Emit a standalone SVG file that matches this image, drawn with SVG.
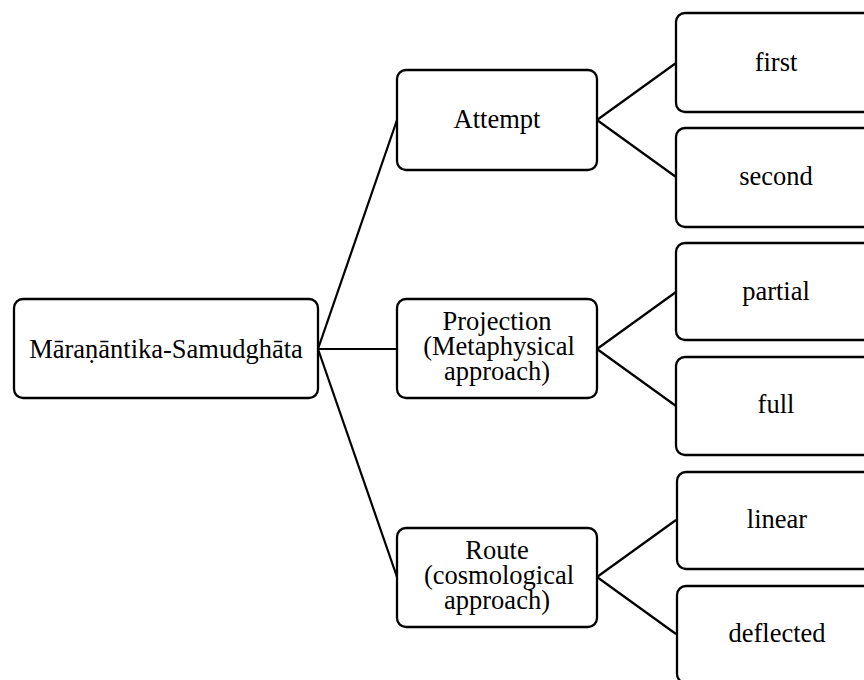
<svg xmlns="http://www.w3.org/2000/svg" width="864" height="680" viewBox="0 0 864 680">
  <style>
    .box { fill: #ffffff; stroke: #000000; stroke-width: 2.3; }
    .lbl { font-family: "Liberation Serif", "Times New Roman", serif; font-size: 26.5px; fill: #000000; text-anchor: middle; }
    .link { stroke: #000000; stroke-width: 2.2; fill: none; }
  </style>
  <rect width="864" height="680" fill="#ffffff"/>

  <g id="connectors">
    <line class="link" x1="318" y1="349" x2="397" y2="120"/>
    <line class="link" x1="318" y1="349" x2="397" y2="349"/>
    <line class="link" x1="318" y1="349" x2="397" y2="577"/>
    <line class="link" x1="597" y1="120" x2="676" y2="63"/>
    <line class="link" x1="597" y1="120" x2="676" y2="177"/>
    <line class="link" x1="597" y1="349" x2="676" y2="292"/>
    <line class="link" x1="597" y1="349" x2="676" y2="406"/>
    <line class="link" x1="597" y1="577" x2="676" y2="520"/>
    <line class="link" x1="597" y1="577" x2="676" y2="634"/>
  </g>

  <g id="root">
    <rect class="box" x="14" y="299" width="304" height="99" rx="9"/>
    <text class="lbl" x="166" y="358">Māraṇāntika-Samudghāta</text>
  </g>

  <g id="attempt">
    <rect class="box" x="397" y="70" width="200" height="100" rx="9"/>
    <text class="lbl" x="497" y="128">Attempt</text>
  </g>

  <g id="projection">
    <rect class="box" x="397" y="299" width="200" height="99" rx="9"/>
    <text class="lbl" x="497" y="330">Projection</text>
    <text class="lbl" x="499" y="355">(Metaphysical</text>
    <text class="lbl" x="497" y="380">approach)</text>
  </g>

  <g id="route">
    <rect class="box" x="397" y="528" width="200" height="99" rx="9"/>
    <text class="lbl" x="497" y="559">Route</text>
    <text class="lbl" x="499" y="584">(cosmological</text>
    <text class="lbl" x="497" y="609">approach)</text>
  </g>

  <g id="first">
    <rect class="box" x="676" y="13" width="200" height="99" rx="9"/>
    <text class="lbl" x="776" y="71">first</text>
  </g>

  <g id="second">
    <rect class="box" x="676" y="128" width="200" height="99" rx="9"/>
    <text class="lbl" x="776" y="185">second</text>
  </g>

  <g id="partial">
    <rect class="box" x="676" y="243" width="200" height="97" rx="9"/>
    <text class="lbl" x="776" y="300">partial</text>
  </g>

  <g id="full">
    <rect class="box" x="676" y="357" width="200" height="98" rx="9"/>
    <text class="lbl" x="776" y="413">full</text>
  </g>

  <g id="linear">
    <rect class="box" x="677" y="472" width="200" height="97" rx="9"/>
    <text class="lbl" x="777" y="528">linear</text>
  </g>

  <g id="deflected">
    <rect class="box" x="677" y="586" width="200" height="97" rx="9"/>
    <text class="lbl" x="777" y="642">deflected</text>
  </g>
</svg>
